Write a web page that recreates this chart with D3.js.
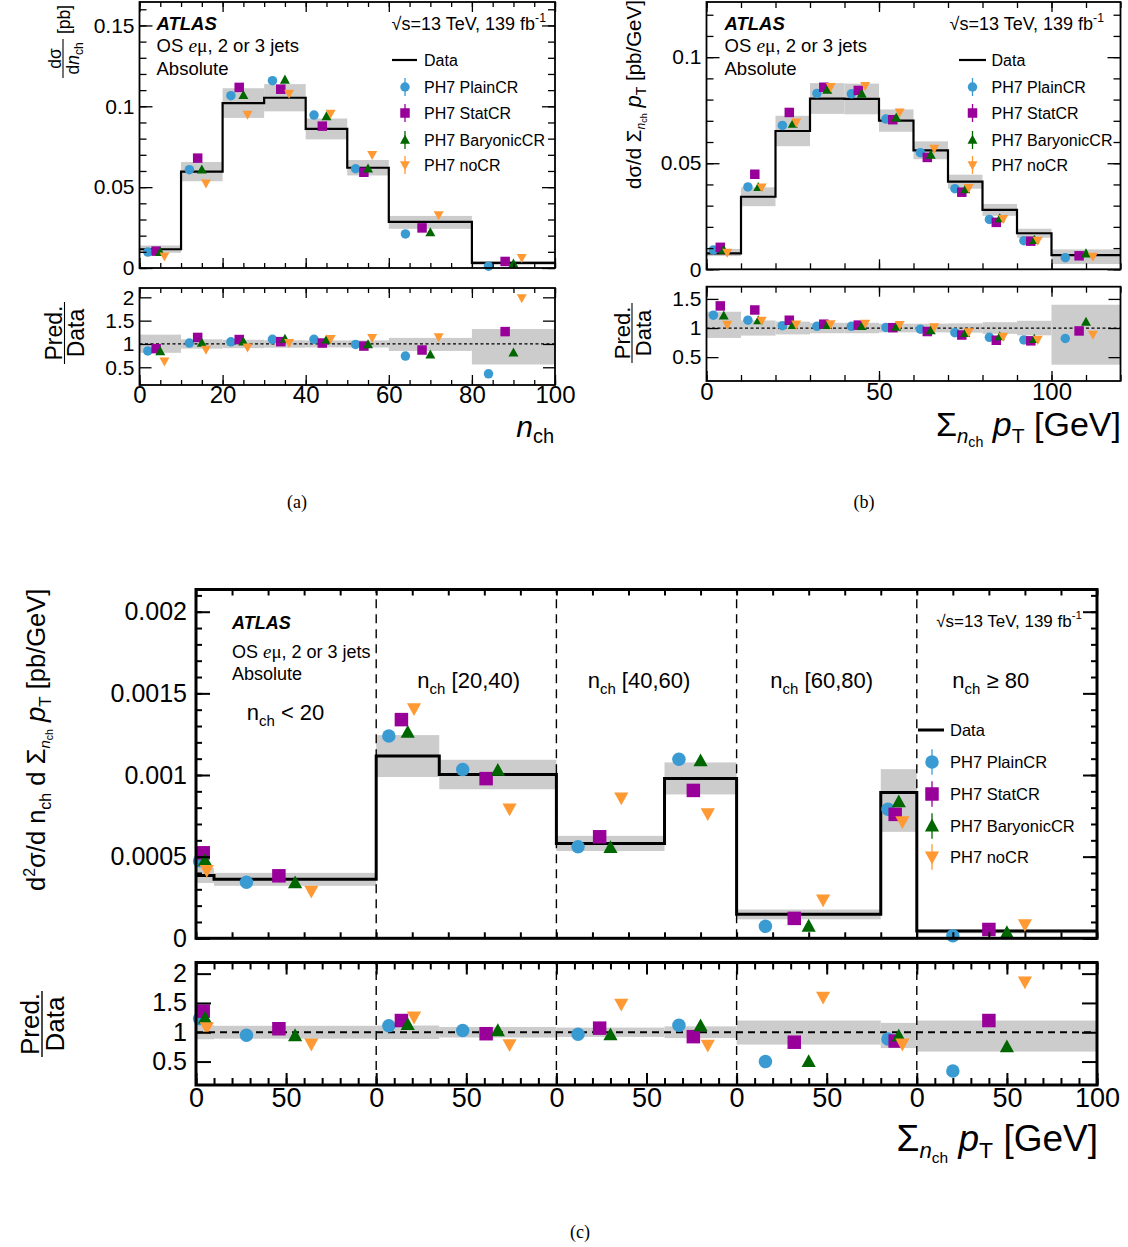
<!DOCTYPE html>
<html><head><meta charset="utf-8">
<script src="https://cdn.jsdelivr.net/npm/d3@7"></script>
<style>
body{margin:0;background:#fff;}
svg{display:block;font-family:"Liberation Sans",Arial,Helvetica,sans-serif;}
</style></head><body>
<svg id="chart" width="1128" height="1247"></svg>
<script>
// ================= DATA =================
const seriesNames = ["PH7 PlainCR","PH7 StatCR","PH7 BaryonicCR","PH7 noCR"];
const seriesColors = ["#3a9bd2","#990099","#006600","#ff9933"];
const seriesOffsets = [0.2,0.4,0.5,0.6];

// (a) dσ/dn_ch
const aEdges = [0,10,20,30,40,50,60,80,100];
const aData  = [0.0116,0.0596,0.1020,0.1053,0.0860,0.0620,0.0285,0.0032];
const aUp    = [0.20,0.10,0.09,0.08,0.075,0.077,0.13,0.32];
const aDn    = [0.19,0.10,0.09,0.08,0.075,0.077,0.15,0.44];
const aPlain = [0.85,1.02,1.045,1.10,1.10,0.99,0.74,0.36];
const aStat  = [0.90,1.14,1.095,1.05,1.02,0.955,0.87,1.265];
const aBary  = [0.84,1.02,1.047,1.105,1.09,0.99,0.77,0.81];
const aNoCR  = [0.63,0.88,0.93,1.025,1.11,1.13,1.15,1.985];

// (b) dσ/dΣpT
const bEdges = [0,10,20,30,40,50,60,70,80,90,100,120];
const bData  = [0.0075,0.0342,0.0652,0.0805,0.0803,0.0701,0.0561,0.0413,0.0280,0.0170,0.0067];
const bUp    = [0.28,0.13,0.11,0.09,0.09,0.075,0.075,0.08,0.10,0.125,0.40];
const bDn    = [0.17,0.13,0.11,0.09,0.09,0.075,0.075,0.08,0.10,0.125,0.63];
const bPlain = [1.22,1.135,1.04,1.03,1.03,1.01,0.98,0.92,0.84,0.795,0.82];
const bStat  = [1.38,1.31,1.134,1.066,1.05,1.006,0.94,0.88,0.79,0.78,0.95];
const bBary  = [1.21,1.13,1.05,1.05,1.03,1.02,0.96,0.91,0.857,0.81,1.105];
const bNoCR  = [1.058,1.13,1.062,1.068,1.077,1.056,1.015,0.93,0.852,0.80,0.89];

// (c) d²σ/dn_ch dΣpT : 5 n_ch regions, each 0–100 GeV, concatenated
const cRegions = ["n_ch < 20","n_ch [20,40)","n_ch [40,60)","n_ch [60,80)","n_ch ≥ 80"];
const cLo    = [0,10,100,135,200,260,300,380,400];
const cHi    = [10,100,135,200,260,300,380,400,500];
const cData  = [0.000385,0.000361,0.001116,0.001003,0.000581,0.000979,0.000147,0.000893,0.000045];
const cUp    = [0.12,0.11,0.115,0.09,0.08,0.10,0.20,0.16,0.20];
const cDn    = [0.12,0.11,0.115,0.09,0.08,0.10,0.21,0.27,0.33];
const cPlain = [1.23,0.95,1.11,1.03,0.965,1.12,0.50,0.885,0.34];
const cStat  = [1.36,1.06,1.20,0.975,1.07,0.925,0.83,0.85,1.20];
const cBary  = [1.24,0.94,1.13,1.025,0.955,1.11,0.50,0.935,0.75];
const cNoCR  = [1.08,0.80,1.26,0.79,1.48,0.78,1.60,0.80,1.86];

// ================= DRAWING =================
const svg = d3.select("#chart");
const SERIF = "'Liberation Serif','Times New Roman',serif";

function markerPath(k, size){
  const s = size/2;
  if(k===0) return d3.symbol(d3.symbolCircle, Math.PI*s*s)();
  if(k===1) return `M${-s},${-s}H${s}V${s}H${-s}Z`;
  if(k===2) return `M0,${-s*1.1}L${s*1.05},${s*0.8}L${-s*1.05},${s*0.8}Z`;
  return `M0,${s*1.1}L${s*1.05},${-s*0.8}L${-s*1.05},${-s*0.8}Z`;
}

function drawHist(g, x, y, lo, hi, center, up, dn, series, o){
  g.selectAll(null).data(lo).enter().append("rect")
    .attr("x",(d,i)=>x(lo[i])).attr("width",(d,i)=>x(hi[i])-x(lo[i]))
    .attr("y",(d,i)=>y(center[i]*(1+up[i])))
    .attr("height",(d,i)=>y(center[i]*(1-dn[i]))-y(center[i]*(1+up[i])))
    .attr("fill","#cccccc");
  if(o.dashes) o.dashes.forEach(v=>{
    g.append("line").attr("x1",x(v)).attr("x2",x(v)).attr("y1",y.range()[0]).attr("y2",y.range()[1])
      .attr("stroke","#000").attr("stroke-width",o.dashW).attr("stroke-dasharray",o.dashArr);
  });
  if(o.refLine){
    g.append("line").attr("x1",x.range()[0]).attr("x2",x.range()[1]).attr("y1",y(1)).attr("y2",y(1))
      .attr("stroke","#000").attr("stroke-width",o.refW).attr("stroke-dasharray",o.refArr);
  } else {
    let p = d3.path();
    lo.forEach((l,i)=>{
      if(i===0) p.moveTo(x(l), y(center[i])); else p.lineTo(x(l), y(center[i]));
      p.lineTo(x(hi[i]), y(center[i]));
    });
    g.append("path").attr("d",p.toString()).attr("fill","none").attr("stroke","#000")
      .attr("stroke-width",o.lineW).attr("stroke-linejoin","miter");
  }
  series.forEach((vals,k)=>{
    g.selectAll(null).data(vals).enter().append("path")
      .attr("d",markerPath(k,o.msize))
      .attr("transform",(v,i)=>`translate(${x(lo[i]+seriesOffsets[k]*(hi[i]-lo[i]))},${y(o.ratio?v:v*center[i])})`)
      .attr("fill",seriesColors[k]);
  });
}

function makeAxes(g, x, y, o){
  const [L,R] = x.range(); const [B,T] = y.range();
  const st = (sel,fs)=>{ sel.select(".domain").remove(); sel.attr("font-family",null).attr("font-size",fs);
    sel.selectAll("line").attr("stroke","#000").attr("stroke-width",o.tickW);
    sel.selectAll("text").attr("fill","#000"); return sel; };
  const none = ()=>"";
  st(g.append("g").attr("transform",`translate(${L},0)`).call(d3.axisLeft(y).tickValues(o.yMajor).tickSizeInner(-o.yMaj).tickSizeOuter(0).tickPadding(o.yPad).tickFormat(o.yFmt)), o.yFs);
  st(g.append("g").attr("transform",`translate(${R},0)`).call(d3.axisRight(y).tickValues(o.yMajor).tickSizeInner(-o.yMaj).tickSizeOuter(0).tickFormat(none)), 1);
  if(o.yMinor){
    st(g.append("g").attr("transform",`translate(${L},0)`).call(d3.axisLeft(y).tickValues(o.yMinor).tickSizeInner(-o.yMin).tickSizeOuter(0).tickFormat(none)),1);
    st(g.append("g").attr("transform",`translate(${R},0)`).call(d3.axisRight(y).tickValues(o.yMinor).tickSizeInner(-o.yMin).tickSizeOuter(0).tickFormat(none)),1);
  }
  st(g.append("g").attr("transform",`translate(0,${B})`).call(d3.axisBottom(x).tickValues(o.xMajor).tickSizeInner(-o.xMaj).tickSizeOuter(0).tickPadding(o.xPad||3).tickFormat(o.xFmt||none)), o.xFs||1);
  st(g.append("g").attr("transform",`translate(0,${T})`).call(d3.axisTop(x).tickValues(o.xMajor).tickSizeInner(-o.xMaj).tickSizeOuter(0).tickFormat(none)),1);
  if(o.xMinor){
    st(g.append("g").attr("transform",`translate(0,${B})`).call(d3.axisBottom(x).tickValues(o.xMinor).tickSizeInner(-o.xMin).tickSizeOuter(0).tickFormat(none)),1);
    st(g.append("g").attr("transform",`translate(0,${T})`).call(d3.axisTop(x).tickValues(o.xMinor).tickSizeInner(-o.xMin).tickSizeOuter(0).tickFormat(none)),1);
  }
  g.append("rect").attr("x",L).attr("y",T).attr("width",R-L).attr("height",B-T)
    .attr("fill","none").attr("stroke","#000").attr("stroke-width",o.frameW);
}

const num = d => String(+d.toFixed(6));
const rng = (a,b,s)=>d3.range(a,b+s/2,s).map(v=>+v.toFixed(6));

function legend(g, o){
  g.append("line").attr("x1",o.lx0).attr("x2",o.lx1).attr("y1",o.ys[0]).attr("y2",o.ys[0])
    .attr("stroke","#000").attr("stroke-width",o.lw);
  g.append("text").attr("x",o.tx).attr("y",o.ys[0]).attr("dy","0.36em").attr("font-size",o.fs).text("Data");
  seriesNames.forEach((n,k)=>{
    const yy = o.ys[k+1];
    g.append("line").attr("x1",o.mx).attr("x2",o.mx).attr("y1",yy-o.ms*0.95).attr("y2",yy+o.ms*0.95)
      .attr("stroke",seriesColors[k]).attr("stroke-width",1.3);
    g.append("path").attr("d",markerPath(k,o.ms)).attr("transform",`translate(${o.mx},${yy})`).attr("fill",seriesColors[k]);
    g.append("text").attr("x",o.tx).attr("y",yy).attr("dy","0.36em").attr("font-size",o.fs).text(n);
  });
}

function atlasBlock(g, x, y0, dy1, dy2, fs){
  g.append("text").attr("x",x).attr("y",y0).attr("font-size",fs).attr("font-weight","bold").attr("font-style","italic").text("ATLAS");
  const t = g.append("text").attr("x",x).attr("y",y0+dy1).attr("font-size",fs);
  t.append("tspan").text("OS ");
  t.append("tspan").attr("font-family",SERIF).attr("font-style","italic").attr("font-size",fs*1.05).text("e");
  t.append("tspan").attr("font-family",SERIF).attr("font-size",fs*1.05).text("μ");
  t.append("tspan").text(", 2 or 3 jets");
  g.append("text").attr("x",x).attr("y",y0+dy2).attr("font-size",fs).text("Absolute");
}
function lumi(g, xr, y, fs){
  const t = g.append("text").attr("x",xr).attr("y",y).attr("font-size",fs).attr("text-anchor","end");
  t.append("tspan").text("√s=13 TeV, 139 fb");
  t.append("tspan").attr("font-size",fs*0.68).attr("dy",-fs*0.42).text("-1");
}

// ---------- Panel (a) ----------
{
  const g = svg.append("g");
  const x = d3.scaleLinear().domain([0,100]).range([139.5,555]);
  const y = d3.scaleLinear().domain([0,0.1645]).range([268,2]);
  const lo = aEdges.slice(0,-1), hi = aEdges.slice(1);
  drawHist(g,x,y,lo,hi,aData,aUp,aDn,[aPlain,aStat,aBary,aNoCR],{msize:9.5,lineW:2.2});
  makeAxes(g,x,y,{yMajor:[0,0.05,0.1,0.15],yMinor:rng(0,0.16,0.01),yMaj:13,yMin:7,yPad:5,yFmt:num,yFs:21,
    xMajor:rng(0,100,20),xMinor:rng(0,100,5),xMaj:10,xMin:5,tickW:1.3,frameW:1.8});
  atlasBlock(g,156.5,30,22,44.5,18.5);
  lumi(g,546,30,18);
  legend(g,{lx0:392,lx1:417,mx:405,tx:424,ys:[60,87,113,140,165],fs:16,ms:9.5,lw:2.2});
  const t = g.append("g").attr("transform","translate(63,78) rotate(-90)");
  t.append("line").attr("x1",0).attr("x2",39).attr("y1",0).attr("y2",0).attr("stroke","#000").attr("stroke-width",1.1);
  t.append("text").attr("x",19.5).attr("y",-2.5).attr("text-anchor","middle").attr("font-size",17.5).text("dσ");
  const den = t.append("text").attr("x",19.5).attr("y",15.5).attr("text-anchor","middle").attr("font-size",17.5);
  den.append("tspan").text("d"); den.append("tspan").attr("font-style","italic").text("n");
  den.append("tspan").attr("font-size",12).attr("dy",4).text("ch");
  t.append("text").attr("x",44).attr("y",6.5).attr("font-size",17.5).text("[pb]");
}
// ---------- Panel (a) ratio ----------
{
  const g = svg.append("g");
  const x = d3.scaleLinear().domain([0,100]).range([139.5,555]);
  const y = d3.scaleLinear().domain([0.12,2.2]).range([385,288]);
  const lo = aEdges.slice(0,-1), hi = aEdges.slice(1);
  const ones = lo.map(()=>1);
  drawHist(g,x,y,lo,hi,ones,aUp,aDn,[aPlain,aStat,aBary,aNoCR],{msize:9.5,ratio:true,refLine:true,refW:1.3,refArr:"3,2.5"});
  makeAxes(g,x,y,{yMajor:[0.5,1,1.5,2],yMaj:12,yPad:5,yFmt:num,yFs:21,
    xMajor:rng(0,100,20),xMinor:rng(0,100,5),xMaj:10,xMin:5,xPad:1,xFmt:num,xFs:24,tickW:1.3,frameW:1.8});
  const t = g.append("g").attr("transform","translate(64.5,333) rotate(-90)");
  t.append("line").attr("x1",-31).attr("x2",31).attr("y1",0).attr("y2",0).attr("stroke","#000").attr("stroke-width",1.1);
  t.append("text").attr("x",0).attr("y",-2.5).attr("text-anchor","middle").attr("font-size",23).text("Pred.");
  t.append("text").attr("x",0).attr("y",19).attr("text-anchor","middle").attr("font-size",23).text("Data");
  const xt = g.append("text").attr("x",554).attr("y",437).attr("text-anchor","end").attr("font-size",30);
  xt.append("tspan").attr("font-style","italic").text("n");
  xt.append("tspan").attr("font-size",20).attr("dy",6).text("ch");
}

// ---------- Panel (b) ----------
function sumPtTitle(g, xr, y, fs){
  const t = g.append("text").attr("x",xr).attr("y",y).attr("text-anchor","end").attr("font-size",fs);
  t.append("tspan").text("Σ");
  t.append("tspan").attr("font-style","italic").attr("font-size",fs*0.6).attr("dy",fs*0.2).text("n");
  t.append("tspan").attr("font-size",fs*0.42).attr("dy",fs*0.12).text("ch");
  t.append("tspan").attr("dy",-fs*0.32).text(" ");
  t.append("tspan").attr("font-style","italic").text("p");
  t.append("tspan").attr("font-size",fs*0.62).attr("dy",fs*0.2).text("T");
  t.append("tspan").attr("dy",-fs*0.2).text(" [GeV]");
}
{
  const g = svg.append("g");
  const x = d3.scaleLinear().domain([0,120]).range([706.5,1120.5]);
  const y = d3.scaleLinear().domain([0,0.126]).range([269.3,2]);
  const lo = bEdges.slice(0,-1), hi = bEdges.slice(1);
  drawHist(g,x,y,lo,hi,bData,bUp,bDn,[bPlain,bStat,bBary,bNoCR],{msize:9.5,lineW:2.2});
  makeAxes(g,x,y,{yMajor:[0,0.05,0.1],yMinor:rng(0,0.12,0.01),yMaj:13,yMin:7,yPad:5,yFmt:num,yFs:21,
    xMajor:rng(0,100,50),xMinor:rng(0,120,10),xMaj:10,xMin:6,tickW:1.3,frameW:1.8});
  atlasBlock(g,724.5,30,22,44.5,18.5);
  lumi(g,1104,30,18);
  legend(g,{lx0:959,lx1:986,mx:972.5,tx:991.5,ys:[60,87,113,140,165],fs:16,ms:9.5,lw:2.2});
  const t = g.append("text").attr("transform","translate(641,189) rotate(-90)").attr("font-size",20.5);
  t.append("tspan").text("dσ/d Σ");
  t.append("tspan").attr("font-style","italic").attr("font-size",12).attr("dy",4).text("n");
  t.append("tspan").attr("font-size",9).attr("dy",2).text("ch");
  t.append("tspan").attr("dy",-6).text(" ");
  t.append("tspan").attr("font-style","italic").attr("font-size",22).text("p");
  t.append("tspan").attr("font-size",14).attr("dy",5).text("T");
  t.append("tspan").attr("dy",-5).text(" [pb/GeV]");
}
// ---------- Panel (b) ratio ----------
{
  const g = svg.append("g");
  const x = d3.scaleLinear().domain([0,120]).range([706.5,1120.5]);
  const y = d3.scaleLinear().domain([0.09,1.71]).range([381,286.7]);
  const lo = bEdges.slice(0,-1), hi = bEdges.slice(1);
  const ones = lo.map(()=>1);
  drawHist(g,x,y,lo,hi,ones,bUp,bDn,[bPlain,bStat,bBary,bNoCR],{msize:9.5,ratio:true,refLine:true,refW:1.3,refArr:"3,2.5"});
  makeAxes(g,x,y,{yMajor:[0.5,1,1.5],yMaj:12,yPad:5,yFmt:num,yFs:21,
    xMajor:rng(0,100,50),xMinor:rng(0,120,10),xMaj:10,xMin:6,xPad:2,xFmt:num,xFs:24,tickW:1.3,frameW:1.8});
  const t = g.append("g").attr("transform","translate(632,333) rotate(-90)");
  t.append("line").attr("x1",-30).attr("x2",30).attr("y1",0).attr("y2",0).attr("stroke","#000").attr("stroke-width",1.1);
  t.append("text").attr("x",0).attr("y",-2.5).attr("text-anchor","middle").attr("font-size",22).text("Pred.");
  t.append("text").attr("x",0).attr("y",19).attr("text-anchor","middle").attr("font-size",22).text("Data");
  sumPtTitle(g,1121,436,34);
}

// ---------- Panel (c) ----------
const cDashes = [100,200,300,400];
{
  const g = svg.append("g");
  const x = d3.scaleLinear().domain([0,500]).range([196,1097]);
  const y = d3.scaleLinear().domain([0,0.002136]).range([938.3,589.5]);
  drawHist(g,x,y,cLo,cHi,cData,cUp,cDn,[cPlain,cStat,cBary,cNoCR],{msize:13.5,lineW:3,dashes:cDashes,dashW:1.4,dashArr:"9,6"});
  makeAxes(g,x,y,{yMajor:[0,0.0005,0.001,0.0015,0.002],yMinor:rng(0,0.0021,0.0001),yMaj:14,yMin:6,yPad:9,yFmt:num,yFs:25,
    xMajor:rng(0,500,20),xMaj:6,tickW:2,frameW:3});
  atlasBlock(g,232,628.5,29,51.5,18);
  lumi(g,1082,626.5,17);
  const reg = [[285.5,720],[468.7,688],[639,688],[821.7,688],[990.8,688]];
  const tails = [" < 20"," [20,40)"," [40,60)"," [60,80)"," ≥ 80"];
  reg.forEach((p,i)=>{
    const t = g.append("text").attr("x",p[0]).attr("y",p[1]).attr("text-anchor","middle").attr("font-size",22);
    t.append("tspan").text("n");
    t.append("tspan").attr("font-size",15).attr("dy",6).text("ch");
    t.append("tspan").attr("dy",-6).text(tails[i]);
  });
  legend(g,{lx0:918,lx1:944,mx:932,tx:950,ys:[730,762,794,826,857],fs:16.5,ms:13.5,lw:3});
  const t = g.append("text").attr("transform","translate(45,891) rotate(-90)").attr("font-size",25.5);
  t.append("tspan").text("d");
  t.append("tspan").attr("font-size",16).attr("dy",-10).text("2");
  t.append("tspan").attr("dy",10).text("σ/d n");
  t.append("tspan").attr("font-size",16).attr("dy",6).text("ch");
  t.append("tspan").attr("dy",-6).text(" d Σ");
  t.append("tspan").attr("font-style","italic").attr("font-size",15).attr("dy",5).text("n");
  t.append("tspan").attr("font-size",10.5).attr("dy",3).text("ch");
  t.append("tspan").attr("dy",-8).text(" ");
  t.append("tspan").attr("font-style","italic").attr("font-size",27.5).text("p");
  t.append("tspan").attr("font-size",17).attr("dy",6).text("T");
  t.append("tspan").attr("dy",-6).text(" [pb/GeV]");
}
// ---------- Panel (c) ratio ----------
{
  const g = svg.append("g");
  const x = d3.scaleLinear().domain([0,500]).range([196,1097]);
  const y = d3.scaleLinear().domain([0.1,2.19]).range([1085,962.5]);
  const ones = cLo.map(()=>1);
  drawHist(g,x,y,cLo,cHi,ones,cUp,cDn,[cPlain,cStat,cBary,cNoCR],{msize:13.5,ratio:true,refLine:true,refW:2,refArr:"7,5",dashes:cDashes,dashW:1.4,dashArr:"9,6"});
  makeAxes(g,x,y,{yMajor:[0.5,1,1.5,2],yMaj:15,yPad:9,yFmt:num,yFs:25,
    xMajor:rng(0,500,50),xMinor:rng(0,500,10),xMaj:12,xMin:7,xPad:3,xFmt:d=>d===500?"100":String(d%100),xFs:27,tickW:2,frameW:3});
  const t = g.append("g").attr("transform","translate(42,1024) rotate(-90)");
  t.append("line").attr("x1",-33).attr("x2",33).attr("y1",0).attr("y2",0).attr("stroke","#000").attr("stroke-width",1.4);
  t.append("text").attr("x",0).attr("y",-3).attr("text-anchor","middle").attr("font-size",26).text("Pred.");
  t.append("text").attr("x",0).attr("y",22).attr("text-anchor","middle").attr("font-size",26).text("Data");
  sumPtTitle(g,1098,1151,37);
}

// captions
[["(a)",297,508],["(b)",864,508],["(c)",580,1238]].forEach(c=>{
  svg.append("text").attr("x",c[1]).attr("y",c[2]).attr("text-anchor","middle")
    .attr("font-family",SERIF).attr("font-size",18).text(c[0]);
});
</script>
</body></html>
